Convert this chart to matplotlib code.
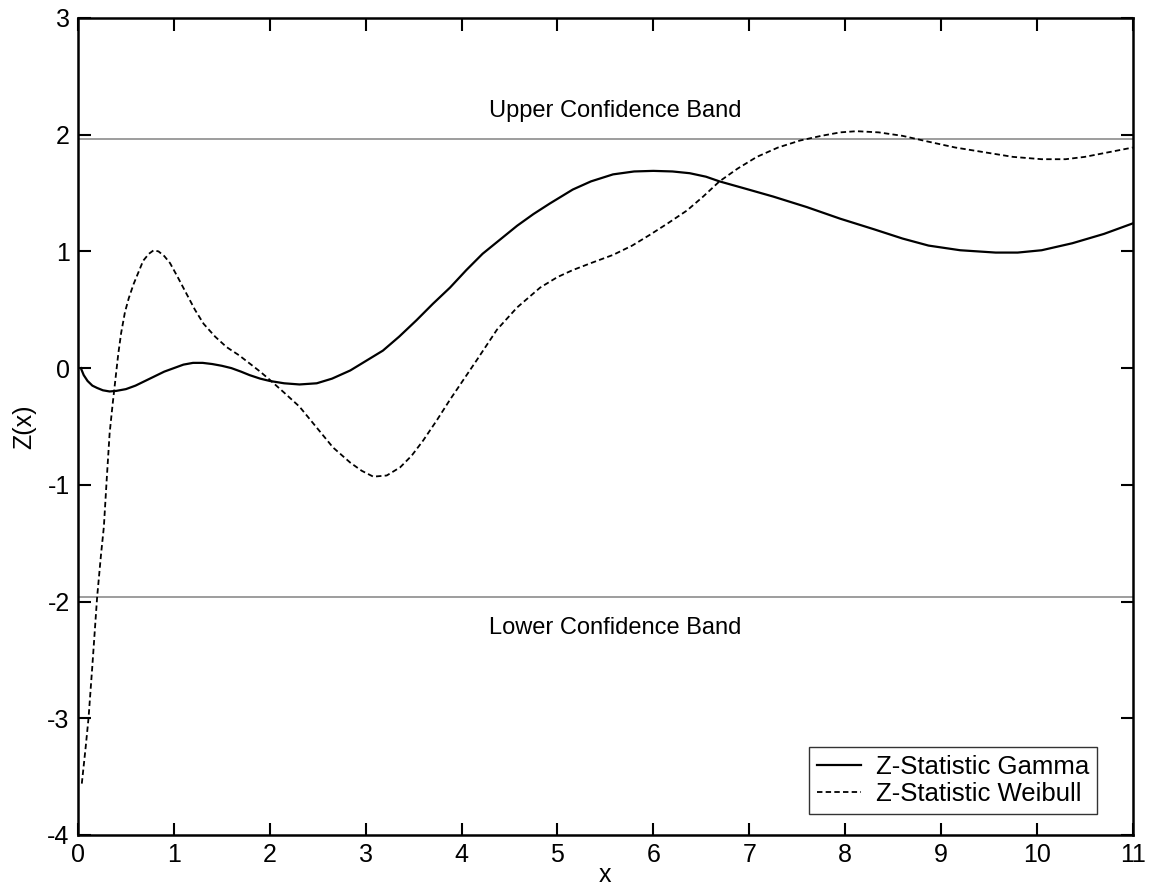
import matplotlib.pyplot as plt

plt.rcParams['font.family'] = ['Liberation Sans', 'DejaVu Sans']
plt.rcParams['axes.unicode_minus'] = False

# values
x_gamma = [0.03, 0.06, 0.1, 0.15, 0.2, 0.26, 0.33, 0.4, 0.5, 0.6, 0.7, 0.8, 0.9, 1.0, 1.1, 1.2, 1.3, 1.4,
           1.5, 1.6, 1.7, 1.79, 1.9, 2.0, 2.15, 2.31, 2.49, 2.65, 2.84, 3.0, 3.18, 3.35, 3.53, 3.7, 3.88,
           4.05, 4.22, 4.4, 4.58, 4.75, 4.92, 5.16, 5.35, 5.58, 5.8, 6.0, 6.2, 6.38, 6.55, 6.69, 6.95,
           7.25, 7.6, 7.95, 8.3, 8.6, 8.87, 9.2, 9.57, 9.8, 10.05, 10.37, 10.7, 11.0]
z_gamma = [0.0, -0.06, -0.11, -0.15, -0.17, -0.19, -0.2, -0.195, -0.18, -0.15, -0.11, -0.07, -0.03, 0.0, 0.03, 0.045, 0.045, 0.035,
           0.02, 0.0, -0.03, -0.06, -0.09, -0.11, -0.13, -0.14, -0.13, -0.09, -0.02, 0.06, 0.15, 0.27, 0.41, 0.55, 0.69,
           0.84, 0.98, 1.1, 1.22, 1.32, 1.41, 1.53, 1.6, 1.66, 1.685, 1.69, 1.685, 1.67, 1.64, 1.60, 1.54,
           1.47, 1.38, 1.28, 1.19, 1.11, 1.05, 1.01, 0.99, 0.99, 1.01, 1.07, 1.15, 1.24]

x_weib = [0.04, 0.08, 0.11, 0.15, 0.2, 0.24, 0.27, 0.3, 0.33, 0.36, 0.39, 0.42, 0.45, 0.49, 0.53, 0.58, 0.63,
          0.68, 0.74, 0.79, 0.84, 0.9, 0.96, 1.04, 1.13, 1.22, 1.31, 1.43, 1.55, 1.68, 1.79, 1.9, 2.0, 2.15,
          2.31, 2.48, 2.66, 2.84, 2.96, 3.08, 3.22, 3.36, 3.48, 3.6, 3.74, 3.88, 4.02, 4.16, 4.37, 4.58,
          4.82, 5.0, 5.16, 5.35, 5.58, 5.78, 5.96, 6.15, 6.35, 6.52, 6.69, 6.88, 7.08, 7.3, 7.53, 7.75, 7.95,
          8.12, 8.35, 8.6, 8.87, 9.15, 9.45, 9.75, 10.05, 10.3, 10.5, 10.75, 11.0]
z_weib = [-3.56, -3.25, -3.0, -2.55, -1.96, -1.6, -1.36, -0.95, -0.56, -0.32, -0.1, 0.12, 0.3, 0.48, 0.6, 0.72, 0.82,
          0.92, 0.98, 1.01, 1.0, 0.96, 0.9, 0.78, 0.64, 0.5, 0.38, 0.27, 0.18, 0.11, 0.04, -0.03, -0.1, -0.21,
          -0.33, -0.5, -0.68, -0.81, -0.88, -0.93, -0.92, -0.85, -0.75, -0.62, -0.45, -0.27, -0.1, 0.07, 0.33, 0.52,
          0.69, 0.78, 0.84, 0.9, 0.97, 1.05, 1.14, 1.24, 1.35, 1.47, 1.60, 1.71, 1.81, 1.89, 1.95, 1.99, 2.02,
          2.03, 2.02, 1.99, 1.94, 1.89, 1.85, 1.81, 1.79, 1.79, 1.81, 1.85, 1.89]

z_crit = 1.96
band_labels = ['Upper Confidence Band', 'Lower Confidence Band']

fig = plt.figure(figsize=(11.5, 8.86), dpi=100)
ax = fig.add_axes([0.0678, 0.0576, 0.9172, 0.9221])

ax.axhline(z_crit, color='#8c8c8c', lw=1.2)
ax.axhline(-z_crit, color='#8c8c8c', lw=1.2)
ax.plot(x_gamma, z_gamma, color='black', lw=1.6, label='Z-Statistic Gamma')
ax.plot(x_weib, z_weib, color='black', lw=1.3, ls=(0, (3, 1.8)), label='Z-Statistic Weibull')

ax.text(5.6, 2.2, band_labels[0], ha='center', va='center', fontsize=17)
ax.text(5.6, -2.23, band_labels[1], ha='center', va='center', fontsize=17)

ax.set_xlim(0, 11)
ax.set_ylim(-4, 3)
ax.set_xticks(range(0, 12))
ax.set_yticks(range(-4, 4))
ax.tick_params(direction='in', length=9, width=1.5, labelsize=18, top=True, right=True, pad=6)
for s in ax.spines.values():
    s.set_linewidth(1.8)
ax.set_xlabel('x', fontsize=18)
ax.xaxis.set_label_coords(0.5, -0.034)
ax.set_ylabel('Z(x)', fontsize=18, labelpad=8)

leg = ax.legend(loc='lower right', bbox_to_anchor=(0.9539, 0.0813), bbox_transform=fig.transFigure,
                fontsize=18.5, frameon=True, fancybox=False, edgecolor='black',
                handlelength=1.7, handletextpad=0.6, borderaxespad=0,
                borderpad=0.3, labelspacing=0.12)
leg.get_frame().set_linewidth(1.0)

fig.savefig('out.png', dpi=100)
